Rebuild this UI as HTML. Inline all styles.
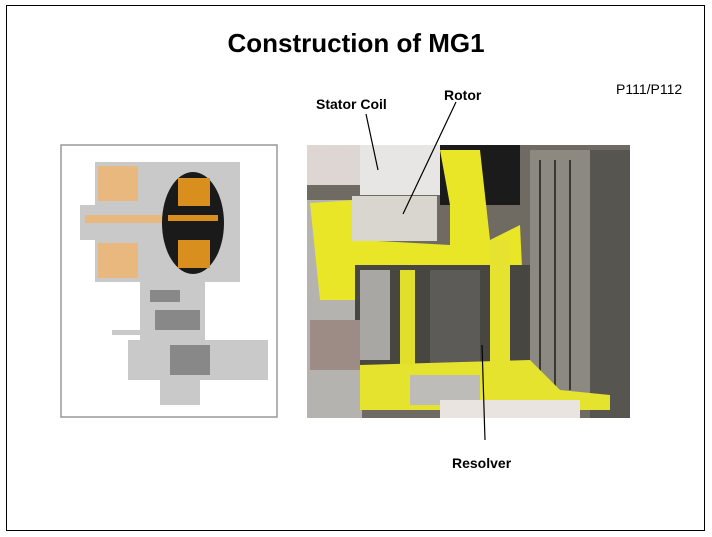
<!DOCTYPE html>
<html><head><style>
body{margin:0;width:712px;height:537px;background:#fff;position:relative;overflow:hidden;font-family:"Liberation Sans",Arial,sans-serif}
.t{position:absolute;font-weight:bold;white-space:nowrap}
</style></head><body>
<div style="position:absolute;left:6px;top:5px;width:697px;height:524px;border:1px solid #000"></div>
<div class="t" style="left:0;width:712px;text-align:center;top:28px;font-size:26px">Construction of MG1</div>
<div class="t" style="left:616px;top:81px;font-size:14px;font-weight:normal">P111/P112</div>
<div class="t" style="left:316px;top:96px;font-size:14px">Stator Coil</div>
<div class="t" style="left:444px;top:87px;font-size:14px">Rotor</div>
<div class="t" style="left:452px;top:455px;font-size:14px">Resolver</div>
<svg width="712" height="537" style="position:absolute;left:0;top:0">
<!-- left diagram -->
<rect x="61" y="145" width="216" height="272" fill="#fff" stroke="#999" stroke-width="1.5"/>
<g fill="#c9c9c9">
<rect x="95" y="162" width="145" height="120"/>
<rect x="80" y="205" width="20" height="35"/>
<rect x="140" y="280" width="65" height="90"/>
<rect x="112" y="330" width="35" height="5"/>
<rect x="128" y="340" width="140" height="40"/>
<rect x="160" y="375" width="40" height="30"/>
</g>
<g fill="#888"><rect x="150" y="290" width="30" height="12"/><rect x="155" y="310" width="45" height="20"/><rect x="170" y="345" width="40" height="30"/></g>
<g fill="#e9b87f"><rect x="98" y="166" width="40" height="35"/><rect x="98" y="243" width="40" height="35"/><rect x="85" y="215" width="80" height="8"/></g>
<ellipse cx="193" cy="223" rx="31" ry="51" fill="#1a1a1a"/>
<g fill="#d98f1e"><rect x="178" y="178" width="32" height="28"/><rect x="178" y="240" width="32" height="28"/><rect x="168" y="215" width="50" height="6"/></g>
<!-- right photo -->
<rect x="307" y="145" width="323" height="273" fill="#6f6a62"/>
<rect x="307" y="145" width="70" height="40" fill="#ddd6d2"/>
<rect x="360" y="145" width="80" height="50" fill="#e8e6e4"/>
<rect x="440" y="145" width="80" height="60" fill="#1b1b1b"/>
<rect x="307" y="200" width="55" height="218" fill="#b5b3b0"/>
<path d="M310 203 L355 200 L360 240 L450 245 L450 205 L440 150 L480 150 L490 240 L520 225 L525 330 L485 330 L480 280 L365 280 L355 300 L320 300 Z" fill="#e8e627"/>
<rect x="352" y="196" width="85" height="45" fill="#d9d6cf"/>
<rect x="355" y="265" width="180" height="100" fill="#474641"/>
<rect x="360" y="270" width="30" height="90" fill="#a9a7a3"/>
<rect x="400" y="270" width="15" height="95" fill="#e2de2c"/>
<rect x="430" y="270" width="50" height="95" fill="#5c5b57"/>
<rect x="490" y="240" width="20" height="135" fill="#e5e330"/>
<rect x="310" y="320" width="50" height="50" fill="#9d8c86"/>
<rect x="530" y="150" width="60" height="250" fill="#8c8980"/>
<g stroke="#3a3833" stroke-width="2">
<line x1="540" y1="160" x2="540" y2="390"/><line x1="555" y1="160" x2="555" y2="390"/><line x1="570" y1="160" x2="570" y2="390"/></g>
<rect x="590" y="150" width="40" height="268" fill="#57554f"/>
<path d="M360 365 L530 360 L560 390 L610 395 L610 410 L360 410 Z" fill="#e6e32e"/>
<rect x="410" y="375" width="70" height="30" fill="#bdbcb8"/>
<rect x="440" y="400" width="140" height="18" fill="#e9e4e0"/>
<g stroke="#000" stroke-width="1.2">
<line x1="366" y1="114" x2="378" y2="170"/>
<line x1="456" y1="102" x2="403" y2="214"/>
<line x1="482" y1="345" x2="485" y2="440"/>
</g>
</svg>
</body></html>
